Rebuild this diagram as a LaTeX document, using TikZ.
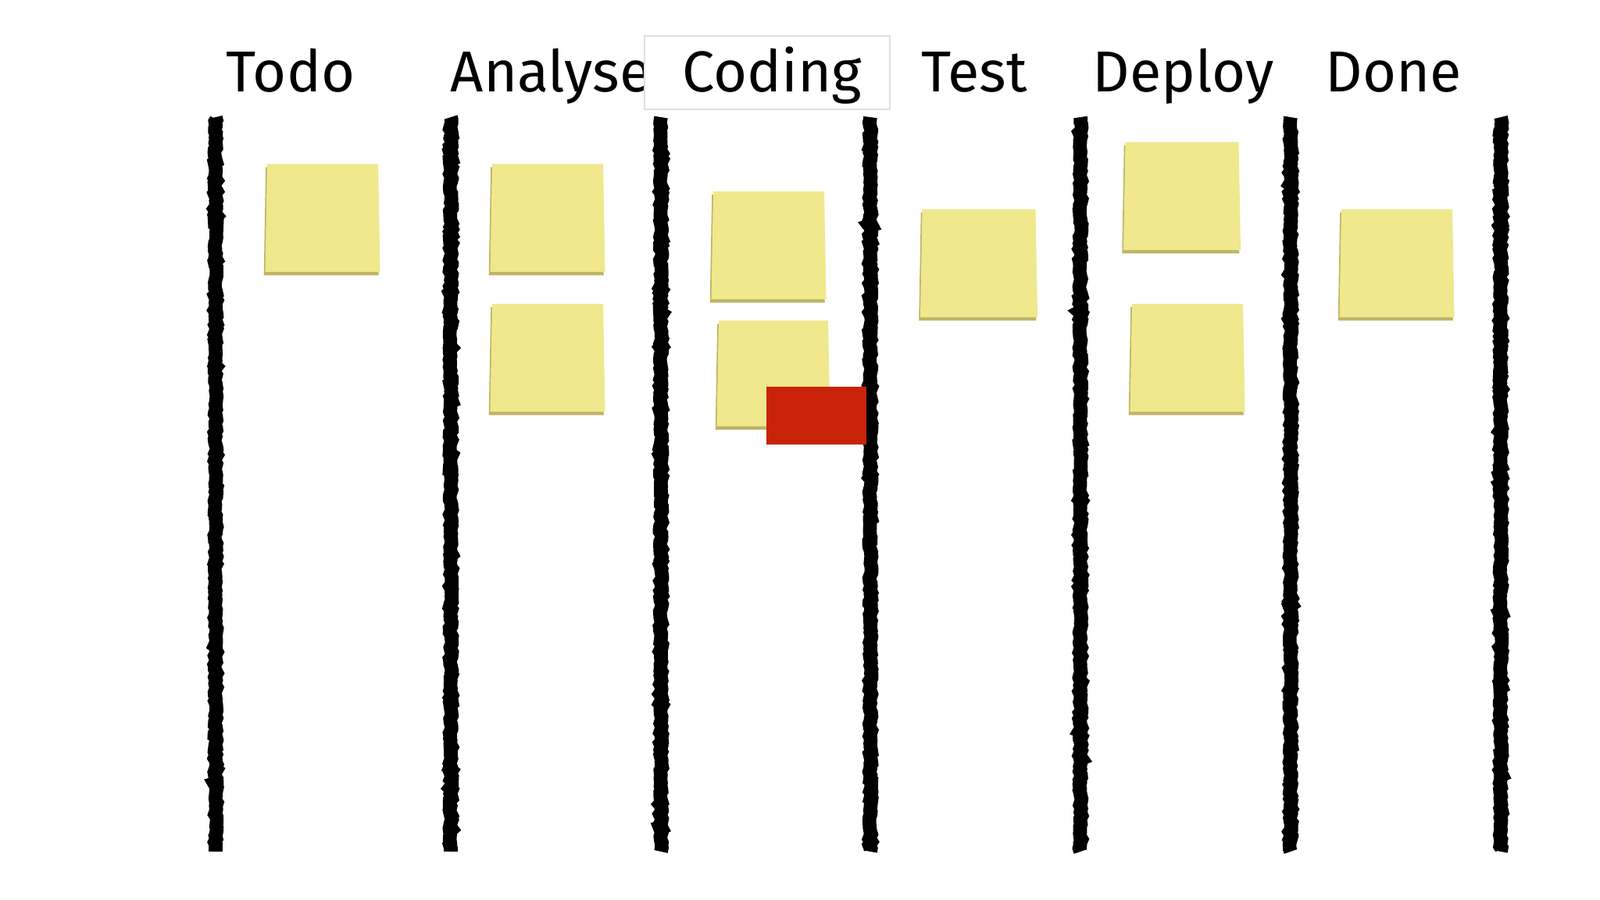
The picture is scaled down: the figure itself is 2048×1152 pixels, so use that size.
\documentclass[tikz,border=0pt]{standalone}
\usepackage{fontspec}
\setmainfont{Fira Sans}
\usepackage{tikz}
\usetikzlibrary{shapes.geometric, shadows, decorations.pathmorphing}
\definecolor{noteyellow}{RGB}{240,232,140}
\definecolor{noteedge}{RGB}{190,180,100}
\definecolor{blockred}{RGB}{200,35,8}
\tikzstyle{title} = [font=\fontsize{21}{24}\selectfont, text=black, inner sep=0pt, anchor=base]
\tikzstyle{note} = [trapezium, trapezium angle=89, trapezium stretches=true, minimum width=1.47cm, minimum height=1.38cm, fill=noteyellow, drop shadow={shadow xshift=-0.5pt, shadow yshift=-1.2pt, fill=noteedge, opacity=1}]
\tikzstyle{block} = [rectangle, minimum width=1.27cm, minimum height=0.73cm, fill=blockred, inner sep=0pt]
\tikzstyle{wall} = [line width=5pt, decorate, decoration={random steps, segment length=1pt, amplitude=0.45pt}]

\begin{document}
\begin{tikzpicture}[x=0.01cm, y=-0.01cm]
    \useasboundingbox (0,0) rectangle (2048,1152);
    % columns
    \foreach \x in {276, 577, 846, 1114, 1383, 1652, 1921}
        \draw [wall] (\x,150) -- (\x,1090);
    % headings
    \node (Todo) [title] at (372,118) {Todo};
    \node (Analyse) [title] at (705,118) {Analyse};
    \node (CodingBox) [draw=gray!25, fill=white, line width=0.6pt, minimum width=3.14cm, minimum height=0.94cm] at (982,93) {};
    \node (Coding) [title] at (988,118) {Coding};
    \node (Test) [title] at (1247,118) {Test};
    \node (Deploy) [title] at (1515,118) {Deploy};
    \node (Done) [title] at (1784,118) {Done};
    % cards
    \node (TodoA) [note] at (413,279) {};
    \node (AnalyseA) [note] at (701,279) {};
    \node (AnalyseB) [note] at (701,458) {};
    \node (CodingA) [note] at (984,314) {};
    \node (CodingB) [note, minimum width=1.45cm, minimum height=1.35cm] at (990,478) {};
    \node (TestA) [note, minimum width=1.5cm] at (1253,337) {};
    \node (DeployA) [note, minimum width=1.5cm] at (1513,251) {};
    \node (DeployB) [note] at (1520,458) {};
    \node (DoneA) [note] at (1788,337) {};
    \node (Blocked) [block] at (1045,532) {};
\end{tikzpicture}
\end{document}
